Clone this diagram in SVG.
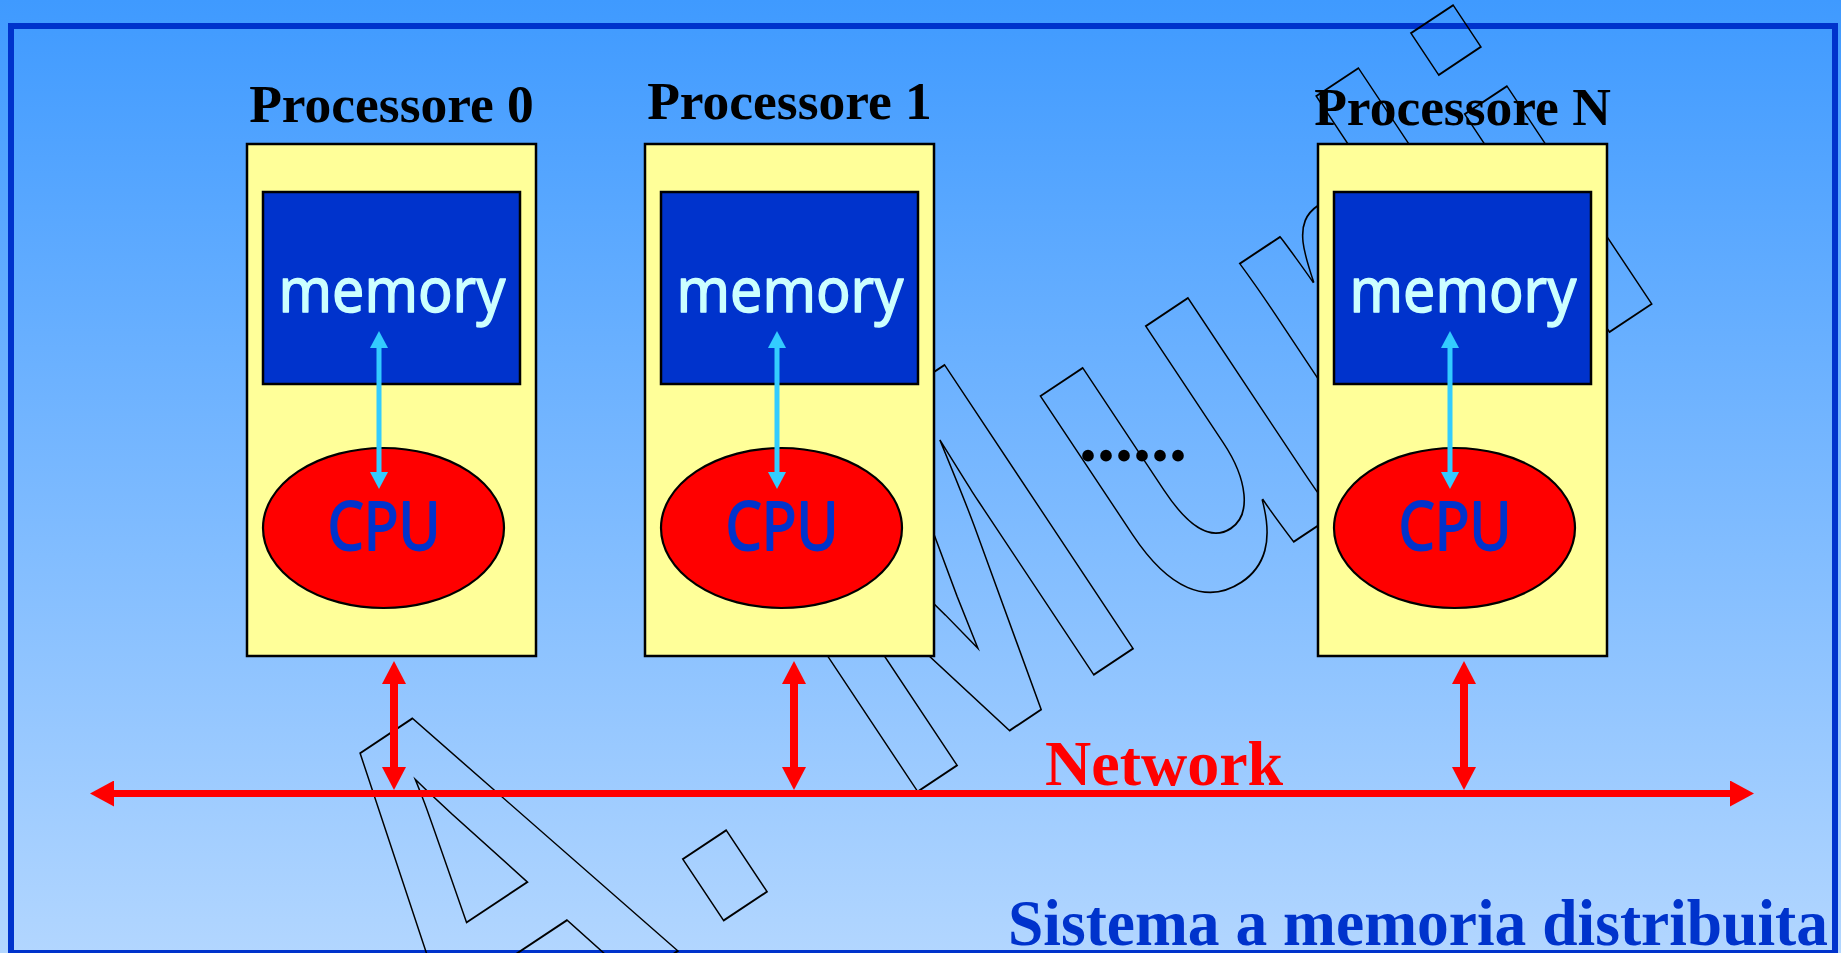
<svg xmlns="http://www.w3.org/2000/svg" width="1841" height="953" viewBox="0 0 1841 953">
  <defs>
    <linearGradient id="bg" x1="0" y1="0" x2="0" y2="1">
      <stop offset="0" stop-color="#3f9aff"/>
      <stop offset="1" stop-color="#b2d6ff"/>
    </linearGradient>
    <marker id="headCyan" markerUnits="userSpaceOnUse" markerWidth="17" markerHeight="18" refX="3" refY="9" orient="auto-start-reverse">
      <path d="M0,0 L17,9 L0,18 z" fill="#33ccff"/>
    </marker>
    <marker id="headRed" markerUnits="userSpaceOnUse" markerWidth="23" markerHeight="24" refX="3" refY="12" orient="auto-start-reverse">
      <path d="M0,0 L23,12 L0,24 z" fill="#ff0000"/>
    </marker>
    <marker id="headNet" markerUnits="userSpaceOnUse" markerWidth="24" markerHeight="26" refX="3" refY="13" orient="auto-start-reverse">
      <path d="M0,0 L24,13 L0,26 z" fill="#ff0000"/>
    </marker>
    <style>
      .title { font-family: "Liberation Serif", "Times New Roman", serif; font-weight: bold; font-size: 53.5px; fill: #000; text-anchor: middle; }
      .box { fill: #ffff99; stroke: #000; stroke-width: 2.5; }
      .mem { fill: #0033cc; stroke: #000; stroke-width: 2.5; }
      .memtxt { font-family: "Noto Sans", sans-serif; font-size: 62px; fill: #ccffff; stroke: #ccffff; stroke-width: 1.4; stroke-linejoin: round; text-anchor: middle; }
      .cpu { fill: #ff0000; stroke: #000; stroke-width: 2.2; }
      .cputxt { font-family: "Noto Sans", sans-serif; font-size: 67px; fill: #0033cc; stroke: #0033cc; stroke-width: 1.8; stroke-linejoin: round; text-anchor: middle; }
      .busCyan { stroke: #33ccff; stroke-width: 5; fill: none; marker-start: url(#headCyan); marker-end: url(#headCyan); }
      .busRed { stroke: #ff0000; stroke-width: 8; fill: none; marker-start: url(#headRed); marker-end: url(#headRed); }
      .net { stroke: #ff0000; stroke-width: 7; fill: none; marker-start: url(#headNet); marker-end: url(#headNet); }
      .mark { font-family: "Liberation Sans", Arial, sans-serif; font-weight: bold; font-size: 495px; fill: none; stroke: #000; stroke-width: 1.7; }
    </style>
  </defs>

  <!-- slide background and frame -->
  <rect x="0" y="0" width="1841" height="953" fill="url(#bg)"/>
  <rect x="11" y="26" width="1824" height="927" fill="none" stroke="#0033cc" stroke-width="6"/>

  <!-- outlined author watermark, condensed and tilted -->
  <g id="watermark">
    <text class="mark" transform="translate(463.6,1093.3) rotate(-33.6) scale(0.747,1)" dx="0 26.8 14.7 22.7 20 16 14.7 14.7" vector-effect="non-scaling-stroke">A. Murli</text>
  </g>

  <!-- processor nodes -->
  <g id="processore-0">
    <text class="title" x="391.5" y="122">Processore 0</text>
    <rect class="box" x="247" y="144" width="289" height="512"/>
    <rect class="mem" x="263" y="192" width="257" height="192"/>
    <text class="memtxt" x="392" y="312" textLength="227" lengthAdjust="spacingAndGlyphs">memory</text>
    <ellipse class="cpu" cx="383.5" cy="528" rx="120.5" ry="80"/>
    <text class="cputxt" x="384" y="550" textLength="113" lengthAdjust="spacingAndGlyphs">CPU</text>
  </g>

  <g id="processore-1">
    <text class="title" x="789.5" y="119">Processore 1</text>
    <rect class="box" x="645" y="144" width="289" height="512"/>
    <rect class="mem" x="661" y="192" width="257" height="192"/>
    <text class="memtxt" x="790" y="312" textLength="227" lengthAdjust="spacingAndGlyphs">memory</text>
    <ellipse class="cpu" cx="781.5" cy="528" rx="120.5" ry="80"/>
    <text class="cputxt" x="782" y="550" textLength="113" lengthAdjust="spacingAndGlyphs">CPU</text>
  </g>

  <g id="processore-n">
    <text class="title" x="1462.5" y="125">Processore N</text>
    <rect class="box" x="1318" y="144" width="289" height="512"/>
    <rect class="mem" x="1334" y="192" width="257" height="192"/>
    <text class="memtxt" x="1463" y="312" textLength="227" lengthAdjust="spacingAndGlyphs">memory</text>
    <ellipse class="cpu" cx="1454.5" cy="528" rx="120.5" ry="80"/>
    <text class="cputxt" x="1455" y="550" textLength="113" lengthAdjust="spacingAndGlyphs">CPU</text>
  </g>

  <g id="ellipsis">
    <text x="1079" y="461" font-family="Liberation Serif, serif" font-weight="bold" font-size="72" fill="#000">......</text>
  </g>

  <g id="network">
    <text x="1045" y="785" font-family="Liberation Serif, serif" font-weight="bold" font-size="64" fill="#ff0000">Network</text>
  </g>

  <!-- memory/CPU links, node/network links and the network bus -->
  <g id="connectors">
    <line class="busCyan" x1="379" y1="345" x2="379" y2="475"/>
    <line class="busCyan" x1="777" y1="345" x2="777" y2="475"/>
    <line class="busCyan" x1="1450" y1="345" x2="1450" y2="475"/>
    <line class="busRed" x1="394" y1="681" x2="394" y2="770"/>
    <line class="busRed" x1="794" y1="681" x2="794" y2="770"/>
    <line class="busRed" x1="1464" y1="681" x2="1464" y2="770"/>
    <line class="net" x1="111" y1="793.5" x2="1733" y2="793.5"/>
  </g>

  <g id="caption">
    <text x="1008" y="945" font-family="Liberation Serif, serif" font-weight="bold" font-size="66" fill="#0033cc" textLength="820" lengthAdjust="spacingAndGlyphs">Sistema a memoria distribuita</text>
  </g>
</svg>
